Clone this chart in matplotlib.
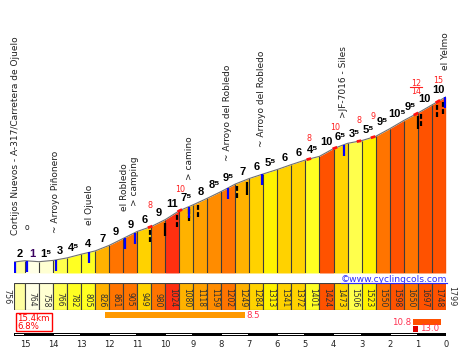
import matplotlib
matplotlib.use("Agg")
import matplotlib.pyplot as plt
from matplotlib.patches import Rectangle
from matplotlib.lines import Line2D
import numpy as np

plt.rcParams['font.family'] = ['DejaVu Sans']

# ---- perfil: tramos (km) y altitud en cada borde ----
largo_tramo = [0.4] + [0.5] * 30
altitudes = [756, 764, 758, 766, 782, 805, 826, 861, 905, 949, 980, 1024, 1080,
             1118, 1159, 1202, 1249, 1284, 1313, 1341, 1372, 1401, 1424, 1473,
             1506, 1523, 1550, 1598, 1650, 1697, 1748, 1799]
pendientes = [2, -1, 1.5, 3, 4.5, 4, 7, 9, 9, 6, 9, 11, 7.5, 8, 8.5, 9.5, 7, 6,
              5.5, 6, 6, 4.5, 10, 6.5, 3.5, 5.5, 9.5, 10.5, 9.5, 10, 10]

# ---- lugares (km desde la salida) ----
lugares_km = [0.06, 0.46, 1.5, 2.69, 3.96, 4.32, 6.25, 7.63, 8.84, 11.76, 15.38]
lugares = ['Cortijos Nuevos - A-317/Carretera de Ojuelo', 'o', '~ Arroyo Piñonero',
           'el Ojuelo', 'el Robledo', '> camping', '> camino',
           '~ Arroyo del Robledo', '~ Arroyo del Robledo', '>JF-7016 - Siles', 'el Yelmo']

# ---- rampas duras (marcas negras) y máximos (rojo) ----
rampas_km = [4.86, 5.39, 5.83, 6.26, 6.58, 7.95, 8.32, 14.42, 14.51, 15.08, 15.29]
rampas_continua = [False, True, False, False, False, False, True, True, False, False, False]
maximos_km = [4.86, 5.92, 10.52, 11.45, 12.31, 12.81, 14.34, 15.12]
maximos = ['8', '10', '8', '10', '8', '9', '12/14', '15']

# ---- resumen ----
distancia_total = 15.4
media = 6.8
tramo5_inicio, tramo5_largo, tramo5_media = 3.25, 5.0, 8.5
tramo1_inicio, tramo1_largo, tramo1_media = 14.24, 0.98, 10.8
max_inicio, max_largo, max_pend = 14.24, 0.16, 13.0
km_restantes = list(range(15, -1, -1))


def color_pend(p):
    if p < 0:
        return '#FFFFE6'
    tabla = [(2, '#FFFFD2'), (3, '#FFFFA0'), (4, '#FFFF4C'), (5, '#FFFF22'),
             (6, '#FFF200'), (7, '#FFD200'), (8, '#FFB200'), (8.5, '#FFA000'),
             (9, '#FF8C00'), (10, '#FF7400'), (11, '#FF5200')]
    for lim, c in tabla:
        if p < lim:
            return c
    return '#FF3010'


def etiqueta(p):
    a = abs(p)
    s = str(int(a))
    if a % 1:
        s += '\u2075'
    return s


W, H = 461, 350
fx = lambda px: px / W
fy = lambda py: 1 - py / H
PX = 0.72  # puntos por pixel (dpi 100)

fig = plt.figure(figsize=(4.61, 3.5), dpi=100)

bordes = np.concatenate([[0], np.cumsum(largo_tramo)])
colores = [color_pend(p) for p in pendientes]
m_px = 6.321  # metros por pixel
base = 756 - 11 * m_px

# ---------- perfil ----------
ax = fig.add_axes([fx(13.8), fy(273), 431.9 / W, 273 / H])
ax.set_xlim(0, distancia_total)
ax.set_ylim(base, 756 + 262 * m_px)
ax.axis('off')

for i, p in enumerate(pendientes):
    ax.fill_between(bordes[i:i + 2], altitudes[i:i + 2], base, color=colores[i], lw=0)
ax.vlines(bordes, base, altitudes, color='#3c3c3c', lw=0.8)
ax.plot(bordes, altitudes, color='#707070', lw=0.8)

alt = lambda k: np.interp(k, bordes, altitudes)

for i, p in enumerate(pendientes):
    xc = (bordes[i] + bordes[i + 1]) / 2
    ytop = max(altitudes[i], altitudes[i + 1])
    ax.annotate(etiqueta(p), (xc, ytop), xytext=(0, 1.5 * PX), textcoords='offset points',
                ha='center', va='bottom', fontsize=8, fontweight='bold',
                color='#3a0060' if p < 0 else 'black', family=['Liberation Sans', 'DejaVu Sans'])

# rampas
for k, cont in zip(rampas_km, rampas_continua):
    a = alt(k)
    ax.plot([k, k], [a - 3 * m_px, a - 16 * m_px], color='black', lw=1.6,
            ls='-' if cont else (0, (2.2, 1.0)), solid_capstyle='butt')

# lugares
for k, nombre in zip(lugares_km, lugares):
    a = alt(k)
    ax.plot([k, k], [a, a - 11 * m_px], color='#0000FF', lw=1.6, solid_capstyle='butt')
    if nombre == 'o':
        ax.annotate(nombre, (k, a), xytext=(0, 29 * PX), textcoords='offset points',
                    ha='center', va='bottom', fontsize=5.5, color='#202020')
    else:
        ax.annotate(nombre, (k, a), xytext=(0, 27 * PX), textcoords='offset points',
                    rotation=90, ha='center', va='bottom', fontsize=6.5, color='#202020')

# máximos en rojo
for k, txt in zip(maximos_km, maximos):
    a = alt(k)
    xs = np.linspace(k - 0.08, k + 0.08, 5)
    ax.plot(xs, alt(xs), color='#FF1010', lw=2.0, solid_capstyle='butt')
    if '/' in txt:
        arriba, abajo = txt.split('/')
        ax.annotate(arriba, (k, a), xytext=(0, 31 * PX), textcoords='offset points',
                    ha='center', va='center', fontsize=5.8, color='#FF2020')
        ax.annotate(abajo, (k, a), xytext=(0, 23 * PX), textcoords='offset points',
                    ha='center', va='center', fontsize=5.8, color='#FF2020')
        ax.plot([k - 0.2, k + 0.2], [a + 27 * m_px] * 2, color='#FF2020', lw=0.8)
    else:
        ax.annotate(txt, (k, a), xytext=(0, 21 * PX), textcoords='offset points',
                    ha='center', va='center', fontsize=5.8, color='#FF2020')

# web
fig.text(fx(447), fy(281.5), '\u00a9www.cyclingcols.com', ha='right', va='baseline',
         fontsize=6.6, color='#2a2aff')
fig.add_artist(Line2D([fx(341), fx(447)], [fy(283.2)] * 2, color='#2a2aff', lw=0.8))

# ---------- cajas de altitud ----------
ax_alt = fig.add_axes([fx(13.8), fy(310), 431.9 / W, 27 / H])
ax_alt.set_xlim(0, distancia_total)
ax_alt.set_ylim(0, 1)
ax_alt.axis('off')
ax_alt.bar(bordes[:-1], 1, width=largo_tramo, align='edge', color=colores,
           edgecolor='#404040', lw=0.8)
for i in range(1, len(altitudes) - 1):
    xc = (bordes[i] + bordes[i + 1]) / 2
    ax_alt.text(xc, 0.11, str(altitudes[i]), rotation=270, ha='center', va='bottom',
                fontsize=5.5, color='#303030')
ax_alt.text(-0.25, 0.5, str(altitudes[0]), rotation=270, ha='center', va='center',
            fontsize=5.8, color='#303030', clip_on=False)
ax_alt.text(distancia_total + 0.2, 0.5, str(altitudes[-1]), rotation=270, ha='center',
            va='center', fontsize=5.8, color='#303030', clip_on=False)

# ---------- resumen ----------
ax_inf = fig.add_axes([fx(13.8), fy(333), 431.9 / W, 22 / H])
ax_inf.set_xlim(0, distancia_total)
ax_inf.set_ylim(333, 311)
ax_inf.axis('off')
ax_inf.add_patch(Rectangle((0.07, 312.7), 1.28, 18, fill=False, ec='#FF0000', lw=1.0))
ax_inf.text(0.13, 318.3, f'{distancia_total}km', ha='left', va='center', fontsize=6.2, color='#FF0000')
ax_inf.text(0.13, 326.2, f'{media}%', ha='left', va='center', fontsize=6.2, color='#FF0000')
ax_inf.barh(315, tramo5_largo, left=tramo5_inicio, height=6, color='#FF9900')
ax_inf.text(tramo5_inicio + tramo5_largo + 0.05, 315, f'{tramo5_media}', ha='left',
            va='center', fontsize=6.2, color='#FF3050')
ax_inf.barh(322.2, tramo1_largo, left=tramo1_inicio, height=5.6, color='#FF5000')
ax_inf.text(tramo1_inicio - 0.07, 322.2, f'{tramo1_media}', ha='right', va='center',
            fontsize=6.2, color='#FF3050')
ax_inf.barh(328.8, max_largo, left=max_inicio, height=5.6, color='#E00000')
ax_inf.text(max_inicio + max_largo + 0.09, 328.8, f'{max_pend}', ha='left', va='center',
            fontsize=6.2, color='#FF3050')

# ---------- escala de km ----------
ax_km = fig.add_axes([fx(13.8), fy(336.3), 431.9 / W, 3.3 / H])
ax_km.set_xlim(0, distancia_total)
ax_km.set_ylim(0, 1)
ax_km.barh(0.5, distancia_total, left=0, height=1, color='black')
cortes = sorted([0] + [distancia_total - r for r in km_restantes])
for j in range(0, len(cortes) - 1, 2):
    ax_km.barh(0.5, cortes[j + 1] - cortes[j] - 0.07, left=cortes[j] + 0.035,
               height=0.42, color='white')
ax_km.set_xticks([distancia_total - r for r in km_restantes])
ax_km.set_xticklabels([str(r) for r in km_restantes])
ax_km.set_yticks([])
ax_km.tick_params(axis='x', length=0, pad=2.6, labelsize=6, labelcolor='#202020')
for s in ax_km.spines.values():
    s.set_visible(False)

fig.savefig('out.png', dpi=100)
